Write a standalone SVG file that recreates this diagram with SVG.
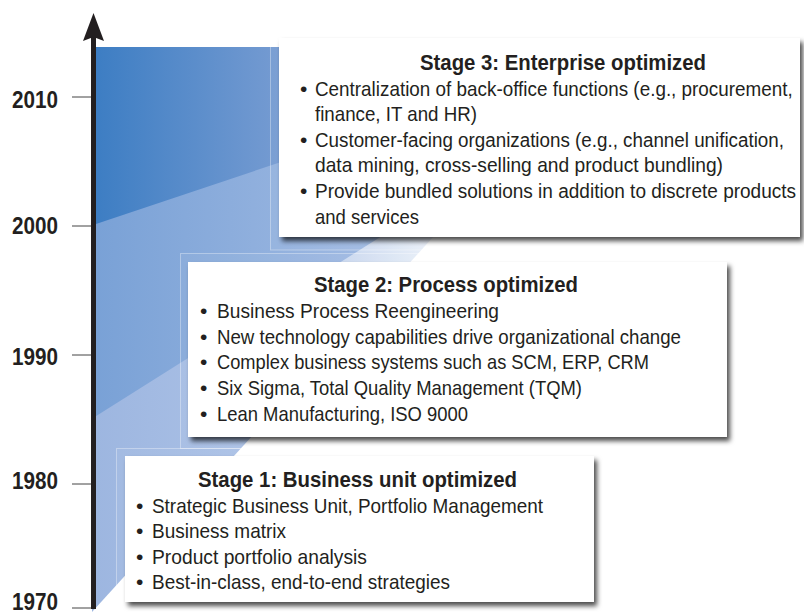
<svg xmlns="http://www.w3.org/2000/svg" width="804" height="615" viewBox="0 0 804 615">
<defs>
  <linearGradient id="gA" gradientUnits="userSpaceOnUse" x1="93" y1="0" x2="445" y2="0">
    <stop offset="0" stop-color="#9db6e0"/>
    <stop offset="0.45" stop-color="#abc1e6"/>
    <stop offset="1" stop-color="#eef3fa"/>
  </linearGradient>
  <linearGradient id="gB" gradientUnits="userSpaceOnUse" x1="93" y1="0" x2="390" y2="0">
    <stop offset="0" stop-color="#79a1d6"/>
    <stop offset="1" stop-color="#a2bbe3"/>
  </linearGradient>
  <linearGradient id="gC" gradientUnits="userSpaceOnUse" x1="93" y1="0" x2="285" y2="0">
    <stop offset="0" stop-color="#3c7dc3"/>
    <stop offset="1" stop-color="#779cd2"/>
  </linearGradient>
  <filter id="sh" x="-5%" y="-10%" width="115%" height="130%">
    <feDropShadow dx="3" dy="4" stdDeviation="2.5" flood-color="#000" flood-opacity="0.7"/>
  </filter>
  <style>
    .box { fill: #ffffff; filter: url(#sh); }
    .frame { fill: #ffffff; fill-opacity: 0.05; stroke: #ffffff; stroke-opacity: 0.35; stroke-width: 1; }
    .h { font-family: "Liberation Sans Narrow", "Liberation Sans", Arial, sans-serif; font-weight: bold; font-size: 22px; fill: #231f20; }
    .b { font-family: "Liberation Sans Narrow", "Liberation Sans", Arial, sans-serif; font-size: 21px; fill: #231f20; }
    .y { font-family: "Liberation Sans Narrow", "Liberation Sans", Arial, sans-serif; font-weight: bold; font-size: 24px; fill: #231f20; }
    .tick { stroke: #444444; stroke-width: 1; }
    .axis { stroke: #231f20; stroke-width: 5; }
  </style>
</defs>

<g id="background">
  <polygon points="92,47 606,47 92,612" fill="url(#gA)"/>
  <polygon points="93,47 682,47 93,418" fill="url(#gB)"/>
  <polygon points="93,47 290,47 290,159 93,225" fill="url(#gC)"/>
  <rect class="frame" x="270.5" y="29.5" width="540" height="220.5"/>
  <rect class="frame" x="180.5" y="253.5" width="557" height="195"/>
  <rect class="frame" x="116.5" y="448.5" width="488" height="166"/>
</g>

<g id="connectors">
  <line class="axis" x1="93.5" y1="36" x2="93.5" y2="609"/>
  <polygon points="93.5,13 104,41 93.5,37 83,41" fill="#231f20"/>
</g>

<g id="year-labels">
  <line class="tick" x1="72" y1="97" x2="91" y2="97"/>
  <line class="tick" x1="72" y1="226" x2="91" y2="226"/>
  <line class="tick" x1="72" y1="355" x2="91" y2="355"/>
  <line class="tick" x1="72" y1="484" x2="91" y2="484"/>
  <line class="tick" x1="72" y1="608" x2="91" y2="608"/>
  <text class="y" x="12" y="108" textLength="46" lengthAdjust="spacingAndGlyphs">2010</text>
  <text class="y" x="12" y="234" textLength="46" lengthAdjust="spacingAndGlyphs">2000</text>
  <text class="y" x="12" y="365" textLength="46" lengthAdjust="spacingAndGlyphs">1990</text>
  <text class="y" x="12" y="489" textLength="46" lengthAdjust="spacingAndGlyphs">1980</text>
  <text class="y" x="12" y="610" textLength="46" lengthAdjust="spacingAndGlyphs">1970</text>
</g>

<g id="stage3">
  <rect class="box" x="279" y="38" width="521" height="199"/>
  <text class="h" x="420" y="70" textLength="286" lengthAdjust="spacingAndGlyphs">Stage 3: Enterprise optimized</text>
  <text class="b" x="300" y="95.6">•</text>
  <text class="b" transform="translate(315 95.6) scale(0.898 1)" textLength="532" lengthAdjust="spacingAndGlyphs">Centralization of back-office functions (e.g., procurement,</text>
  <text class="b" x="315" y="121.2" textLength="162" lengthAdjust="spacingAndGlyphs">finance, IT and HR)</text>
  <text class="b" x="300" y="146.8">•</text>
  <text class="b" transform="translate(315 146.8) scale(0.895 1)" textLength="524" lengthAdjust="spacingAndGlyphs">Customer-facing organizations (e.g., channel unification,</text>
  <text class="b" x="315" y="172.4" textLength="408" lengthAdjust="spacingAndGlyphs">data mining, cross-selling and product bundling)</text>
  <text class="b" x="300" y="198">•</text>
  <text class="b" transform="translate(315 198) scale(0.906 1)" textLength="531" lengthAdjust="spacingAndGlyphs">Provide bundled solutions in addition to discrete products</text>
  <text class="b" x="315" y="223.6" textLength="104" lengthAdjust="spacingAndGlyphs">and services</text>
</g>

<g id="stage2">
  <rect class="box" x="188" y="262" width="539" height="175"/>
  <text class="h" x="314" y="292.3" textLength="264" lengthAdjust="spacingAndGlyphs">Stage 2: Process optimized</text>
  <text class="b" x="200" y="318.2">•</text>
  <text class="b" x="217" y="318.2" textLength="282" lengthAdjust="spacingAndGlyphs">Business Process Reengineering</text>
  <text class="b" x="200" y="343.8">•</text>
  <text class="b" x="217" y="343.8" textLength="464" lengthAdjust="spacingAndGlyphs">New technology capabilities drive organizational change</text>
  <text class="b" x="200" y="369.4">•</text>
  <text class="b" x="217" y="369.4" textLength="432" lengthAdjust="spacingAndGlyphs">Complex business systems such as SCM, ERP, CRM</text>
  <text class="b" x="200" y="395">•</text>
  <text class="b" x="217" y="395" textLength="365" lengthAdjust="spacingAndGlyphs">Six Sigma, Total Quality Management (TQM)</text>
  <text class="b" x="200" y="420.6">•</text>
  <text class="b" x="217" y="420.6" textLength="251" lengthAdjust="spacingAndGlyphs">Lean Manufacturing, ISO 9000</text>
</g>

<g id="stage1">
  <rect class="box" x="125" y="456" width="469" height="146"/>
  <text class="h" x="198" y="487" textLength="319" lengthAdjust="spacingAndGlyphs">Stage 1: Business unit optimized</text>
  <text class="b" x="136" y="512.8">•</text>
  <text class="b" x="152" y="512.8" textLength="391" lengthAdjust="spacingAndGlyphs">Strategic Business Unit, Portfolio Management</text>
  <text class="b" x="136" y="538.4">•</text>
  <text class="b" x="152" y="538.4" textLength="134" lengthAdjust="spacingAndGlyphs">Business matrix</text>
  <text class="b" x="136" y="563.6">•</text>
  <text class="b" x="152" y="563.6" textLength="215" lengthAdjust="spacingAndGlyphs">Product portfolio analysis</text>
  <text class="b" x="136" y="589">•</text>
  <text class="b" x="152" y="589" textLength="298" lengthAdjust="spacingAndGlyphs">Best-in-class, end-to-end strategies</text>
</g>
</svg>
